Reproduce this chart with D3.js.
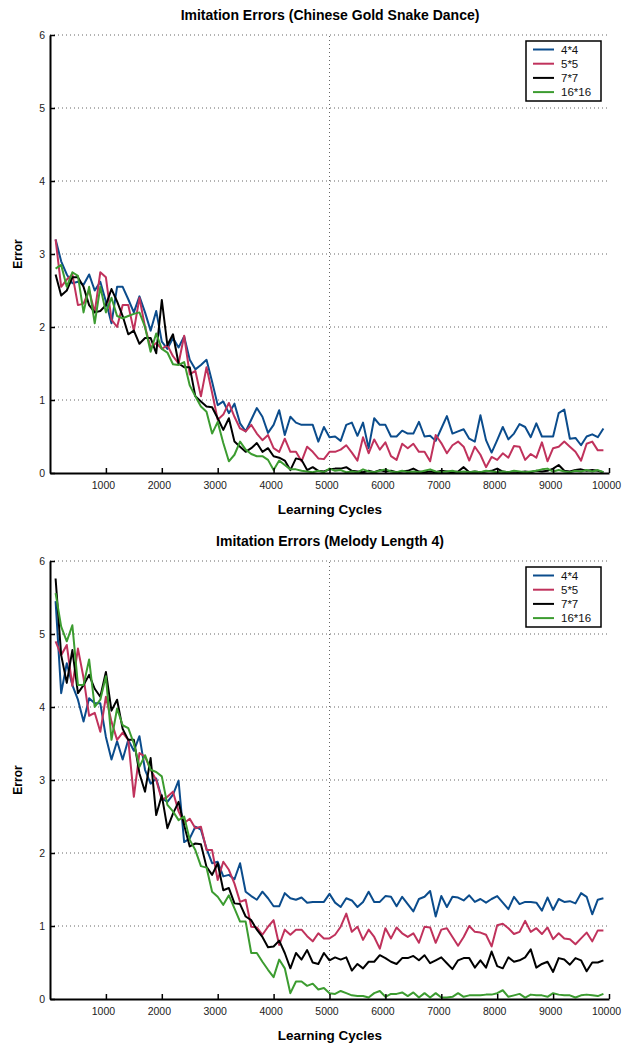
<!DOCTYPE html>
<html>
<head>
<meta charset="utf-8">
<script src="https://cdn.jsdelivr.net/npm/d3@7"></script>
<style>
  html, body { margin: 0; padding: 0; background: #fff; }
  svg { display: block; font-family: "Liberation Sans", Arial, Helvetica, sans-serif; }
</style>
</head>
<body>
<svg id="chart" width="624" height="1045"></svg>
<script>
// ---------------- data ----------------
const seriesNames = ["4*4", "5*5", "7*7", "16*16"];
const seriesColors = ["#0b4c8c", "#c0325c", "#000000", "#3c9c30"];
const xTicks = [1000, 2000, 3000, 4000, 5000, 6000, 7000, 8000, 9000, 10000];
const yTicks = [0, 1, 2, 3, 4, 5, 6];
const xGrid = [5000];
const cycles = d3.range(100, 10000, 100); // learning cycles 100 .. 9900

// Chart 1: Chinese Gold Snake Dance
const snake4x4 = [3.2,2.9,2.72,2.6,2.62,2.58,2.72,2.5,2.62,2.35,
  2.05,2.55,2.55,2.38,2.2,2.42,2.2,1.95,2.22,1.8,
  1.7,1.85,1.72,1.87,1.55,1.42,1.48,1.55,1.25,0.93,
  0.98,0.82,0.95,0.68,0.57,0.73,0.89,0.77,0.55,0.66,
  0.86,0.52,0.77,0.69,0.66,0.66,0.66,0.43,0.63,0.49,
  0.5,0.44,0.66,0.69,0.51,0.69,0.34,0.75,0.66,0.66,
  0.5,0.5,0.58,0.54,0.54,0.7,0.5,0.51,0.44,0.61,
  0.78,0.54,0.57,0.6,0.47,0.43,0.79,0.45,0.28,0.45,
  0.63,0.46,0.54,0.67,0.63,0.49,0.68,0.5,0.5,0.5,
  0.82,0.87,0.47,0.48,0.38,0.5,0.53,0.49,0.61];
const snake5x5 = [3.2,2.55,2.65,2.72,2.3,2.32,2.5,2.2,2.75,2.68,
  2.1,2.0,2.3,2.3,1.95,2.4,2.0,1.72,1.78,1.7,
  1.75,1.6,1.5,1.88,1.35,1.4,1.05,1.45,1.1,0.73,
  0.8,0.96,0.77,0.61,0.57,0.66,0.54,0.45,0.52,0.34,
  0.29,0.47,0.29,0.29,0.16,0.36,0.29,0.2,0.19,0.29,
  0.29,0.32,0.38,0.28,0.17,0.49,0.27,0.46,0.32,0.42,
  0.23,0.18,0.4,0.34,0.4,0.29,0.29,0.16,0.52,0.41,
  0.27,0.38,0.43,0.36,0.17,0.36,0.25,0.08,0.22,0.18,
  0.27,0.21,0.37,0.36,0.18,0.26,0.21,0.42,0.16,0.34,
  0.36,0.43,0.36,0.29,0.17,0.4,0.43,0.31,0.31];
const snake7x7 = [2.72,2.43,2.5,2.68,2.68,2.55,2.3,2.2,2.22,2.3,
  2.52,2.35,2.15,1.9,1.95,1.77,1.85,1.85,1.64,2.37,
  1.75,1.9,1.5,1.45,1.45,1.05,0.98,0.91,0.9,0.75,
  0.59,0.75,0.43,0.36,0.29,0.34,0.41,0.29,0.34,0.23,
  0.21,0.17,0.04,0.2,0.18,0.04,0.08,0.03,0.02,0.05,
  0.06,0.06,0.08,0.03,0.02,0.01,0.03,0.01,0.04,0.02,
  0.03,0.01,0.02,0.03,0.06,0.02,0.01,0.02,0.01,0.03,
  0.02,0.01,0.02,0.08,0.01,0.02,0.01,0.02,0.03,0.06,
  0.02,0.01,0.02,0.01,0.02,0.01,0.03,0.02,0.03,0.06,
  0.11,0.03,0.02,0.04,0.05,0.03,0.04,0.03,0.01];
const snake16x16 = [2.8,2.85,2.55,2.75,2.7,2.2,2.55,2.05,2.55,2.2,
  2.4,2.15,2.12,2.15,2.18,2.2,2.0,1.66,1.91,1.7,
  1.65,1.49,1.48,1.52,1.2,1.05,0.91,0.84,0.54,0.7,
  0.41,0.16,0.25,0.43,0.32,0.26,0.23,0.23,0.18,0.04,
  0.17,0.11,0.05,0.05,0.03,0.02,0.01,0.03,0.01,0.06,
  0.03,0.04,0.01,0.02,0.01,0.05,0.02,0.01,0.03,0.05,
  0.02,0.01,0.03,0.01,0.02,0.01,0.03,0.05,0.02,0.01,
  0.02,0.03,0.01,0.02,0.01,0.02,0.01,0.03,0.02,0.01,
  0.02,0.01,0.03,0.02,0.01,0.02,0.03,0.05,0.06,0.02,
  0.04,0.02,0.01,0.03,0.02,0.04,0.02,0.04,0.01];

// Chart 2: Melody Length 4
const melody4x4 = [5.45,4.19,4.6,4.3,4.1,3.8,4.12,4.05,4.05,3.59,
  3.28,3.53,3.28,3.55,3.4,3.6,3.14,2.95,3.02,2.75,
  2.7,2.8,2.99,2.15,2.2,2.36,2.32,2.06,1.86,1.88,
  1.68,1.7,1.64,1.86,1.47,1.41,1.36,1.47,1.38,1.27,
  1.27,1.45,1.38,1.36,1.39,1.32,1.33,1.33,1.33,1.44,
  1.32,1.26,1.38,1.35,1.26,1.33,1.47,1.33,1.33,1.41,
  1.4,1.27,1.4,1.3,1.2,1.37,1.4,1.48,1.13,1.41,
  1.26,1.4,1.39,1.35,1.42,1.33,1.37,1.32,1.37,1.41,
  1.32,1.23,1.4,1.3,1.33,1.33,1.32,1.21,1.39,1.22,
  1.37,1.33,1.34,1.31,1.45,1.4,1.16,1.36,1.38];
const melody5x5 = [4.9,4.71,4.85,4.29,4.8,4.4,3.88,3.92,3.66,4.14,
  3.8,3.55,3.65,3.55,2.77,3.37,3.32,3.14,3.0,2.73,
  2.77,2.84,2.57,2.41,2.47,2.34,2.36,2.04,2.04,1.63,
  1.88,1.77,1.58,1.33,1.36,0.99,0.98,0.88,0.99,1.08,
  0.74,0.95,0.88,0.95,0.95,0.86,0.79,0.9,0.83,0.83,
  0.88,0.99,1.17,0.92,0.99,0.81,0.95,0.85,0.69,0.97,
  0.83,0.98,0.9,0.85,0.9,0.77,0.99,0.98,0.77,0.95,
  0.97,0.85,0.73,0.85,1.0,0.92,0.91,0.88,0.72,1.01,
  1.03,0.97,0.89,0.92,1.07,0.92,0.97,0.89,0.98,0.82,
  0.9,0.83,0.82,0.75,0.83,0.91,0.79,0.94,0.94];
const melody7x7 = [5.76,4.71,4.33,4.78,4.19,4.3,4.44,4.25,4.14,4.48,
  3.95,4.1,3.7,3.55,3.55,3.09,2.84,3.3,2.52,2.79,
  2.34,2.54,2.7,2.38,2.09,2.13,2.12,1.81,1.7,1.86,
  1.49,1.52,1.31,1.3,1.13,1.08,0.95,0.85,0.71,0.72,
  0.8,0.63,0.42,0.63,0.54,0.67,0.5,0.48,0.63,0.53,
  0.57,0.54,0.57,0.39,0.48,0.42,0.51,0.51,0.6,0.56,
  0.51,0.48,0.56,0.56,0.59,0.53,0.6,0.49,0.53,0.57,
  0.49,0.41,0.53,0.56,0.56,0.43,0.53,0.43,0.65,0.45,
  0.42,0.57,0.51,0.53,0.57,0.68,0.43,0.48,0.51,0.37,
  0.56,0.54,0.47,0.56,0.53,0.38,0.5,0.5,0.53];
const melody16x16 = [5.56,5.1,4.9,5.12,4.3,4.3,4.65,4.0,4.1,4.42,
  3.55,3.98,3.75,3.71,3.5,3.18,3.34,3.14,3.11,3.05,
  2.66,2.57,2.45,2.5,2.18,2.04,1.82,1.8,1.47,1.4,
  1.29,1.42,1.24,1.06,1.06,0.63,0.63,0.51,0.4,0.3,
  0.54,0.42,0.08,0.24,0.24,0.18,0.21,0.13,0.15,0.08,
  0.07,0.11,0.08,0.05,0.04,0.04,0.02,0.08,0.11,0.03,
  0.07,0.07,0.09,0.04,0.09,0.02,0.08,0.02,0.08,0.02,
  0.02,0.03,0.08,0.03,0.05,0.05,0.05,0.06,0.06,0.08,
  0.12,0.03,0.05,0.07,0.02,0.06,0.05,0.05,0.03,0.08,
  0.06,0.05,0.05,0.02,0.05,0.06,0.05,0.04,0.07];

const charts = [
  { title: "Imitation Errors (Chinese Gold Snake Dance)", series: [snake4x4, snake5x5, snake7x7, snake16x16], top: 35, bottom: 473 },
  { title: "Imitation Errors (Melody Length 4)", series: [melody4x4, melody5x5, melody7x7, melody16x16], top: 561, bottom: 999 }
];

// ---------------- drawing ----------------
const svg = d3.select("#chart");
const left = 50, right = 609;
const x = d3.scaleLinear().domain([0, 10000]).range([left, right]);

charts.forEach(ch => {
  const y = d3.scaleLinear().domain([0, 6]).range([ch.bottom, ch.top]);
  const g = svg.append("g");

  // grid
  g.append("g").selectAll("line").data(yTicks.filter(v => v > 0)).join("line")
    .attr("x1", left).attr("x2", right)
    .attr("y1", d => y(d)).attr("y2", d => y(d))
    .attr("stroke", "#666").attr("stroke-width", 1).attr("stroke-dasharray", "1,3");
  g.append("g").selectAll("line").data(xGrid).join("line")
    .attr("x1", d => x(d)).attr("x2", d => x(d))
    .attr("y1", y(0)).attr("y2", y(6))
    .attr("stroke", "#666").attr("stroke-width", 1).attr("stroke-dasharray", "1,3");

  // lines
  const line = d3.line().x((d, i) => x(cycles[i])).y(d => y(d));
  ch.series.forEach((vals, si) => {
    g.append("path").datum(vals)
      .attr("fill", "none")
      .attr("stroke", seriesColors[si])
      .attr("stroke-width", 2)
      .attr("stroke-linejoin", "round")
      .attr("d", line);
  });

  // axes
  const xa = g.append("g").attr("transform", `translate(0,${ch.bottom})`)
    .call(d3.axisBottom(x).tickValues(xTicks).tickFormat(d3.format("d"))
      .tickSizeInner(-5).tickSizeOuter(0).tickPadding(9));
  const ya = g.append("g").attr("transform", `translate(${left},0)`)
    .call(d3.axisLeft(y).tickValues(yTicks).tickFormat(d3.format("d"))
      .tickSizeInner(-5).tickSizeOuter(0).tickPadding(5));
  [xa, ya].forEach(a => {
    a.select(".domain").attr("stroke", "#000").attr("stroke-width", 2);
    a.selectAll(".tick line").attr("stroke", "#000").attr("stroke-width", 1.5);
    a.selectAll(".tick text").attr("font-size", 10.5).attr("fill", "#222")
      .attr("font-family", "Liberation Sans, Arial, sans-serif");
  });
  xa.selectAll(".tick text").attr("dx", -3);

  // title & labels
  g.append("text").attr("x", 330).attr("y", ch.top - 15)
    .attr("text-anchor", "middle").attr("font-weight", "bold").attr("font-size", 14)
    .text(ch.title);
  g.append("text").attr("x", 330).attr("y", ch.bottom + 41)
    .attr("text-anchor", "middle").attr("font-weight", "bold").attr("font-size", 13.5)
    .text("Learning Cycles");
  g.append("text").attr("transform", `translate(22,${(ch.top + ch.bottom) / 2}) rotate(-90)`)
    .attr("text-anchor", "middle").attr("font-weight", "bold").attr("font-size", 12)
    .text("Error");

  // legend
  const lg = g.append("g").attr("transform", `translate(526,${ch.top + 6})`);
  lg.append("rect").attr("width", 75).attr("height", 60)
    .attr("fill", "#fff").attr("stroke", "#000").attr("stroke-width", 1.5);
  seriesNames.forEach((nm, i) => {
    const yy = 8.5 + i * 14.2;
    lg.append("line").attr("x1", 7).attr("x2", 28).attr("y1", yy).attr("y2", yy)
      .attr("stroke", seriesColors[i]).attr("stroke-width", 2);
    lg.append("text").attr("x", 35).attr("y", yy).attr("dy", "0.35em")
      .attr("font-size", 11.5).attr("fill", "#111").text(nm);
  });
});
</script>
</body>
</html>
